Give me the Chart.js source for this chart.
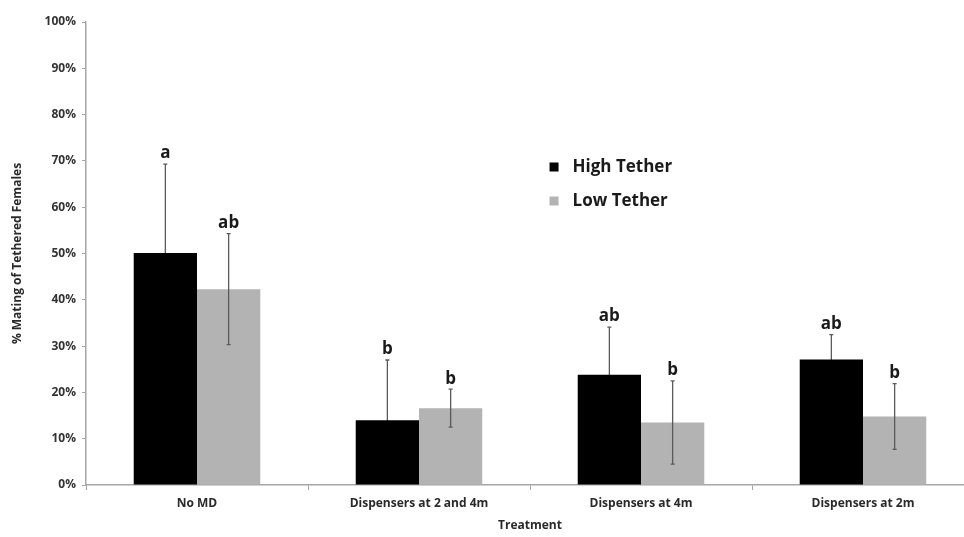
<!DOCTYPE html>
<html>
<head>
<meta charset="utf-8">
<script src="https://cdn.jsdelivr.net/npm/chart.js@4/dist/chart.umd.min.js"></script>
<style>
html, body { margin: 0; padding: 0; overflow: hidden; background: #fff; }
#wrap { position: relative; width: 975px; height: 537px; }
</style>
</head>
<body>
<div id="wrap"><canvas id="myChart"></canvas></div>
<script>
// values (percent)
const treatments = ['No MD', 'Dispensers at 2 and 4m', 'Dispensers at 4m', 'Dispensers at 2m']
const highTether = [50.1, 14.0, 23.8, 27.1]
const lowTether = [42.3, 16.6, 13.5, 14.8]
const highErr = [19.2, 13.0, 10.3, 5.4]
const lowErr = [12.0, 4.1, 9.0, 7.1]
const highLetters = ['a', 'b', 'ab', 'ab']
const lowLetters = ['ab', 'b', 'b', 'b']
const seriesNames = ['High Tether', 'Low Tether']
const seriesColors = ['#000000', '#b3b3b3']

const FONT = '"Open Sans", Lato, sans-serif'

// error bars: the black series goes under its bars, the grey one on top
function drawErrors(chart, idx, errs) {
    const meta = chart.getDatasetMeta(idx)
    const y = chart.scales.y
    const vals = chart.data.datasets[idx].data
    const ctx = chart.ctx
    ctx.save()
    ctx.strokeStyle = '#5a5a5a'
    ctx.lineWidth = 1.3
    meta.data.forEach((bar, i) => {
        const top = y.getPixelForValue(vals[i] + errs[i])
        const bot = y.getPixelForValue(vals[i] - errs[i])
        ctx.beginPath()
        ctx.moveTo(bar.x, top); ctx.lineTo(bar.x, bot)
        ctx.moveTo(bar.x - 2, top); ctx.lineTo(bar.x + 2, top)
        ctx.moveTo(bar.x - 2, bot); ctx.lineTo(bar.x + 2, bot)
        ctx.stroke()
    })
    ctx.restore()
}

const errorBars = {
    id: 'errorBars',
    beforeDatasetsDraw(chart) {
        drawErrors(chart, 0, highErr)
    },
    afterDatasetsDraw(chart) {
        drawErrors(chart, 1, lowErr)
        const ctx = chart.ctx
        const y = chart.scales.y
        ctx.save()
        ctx.fillStyle = '#1a1a1a'
        ctx.font = 'bold 17px ' + FONT
        ctx.textAlign = 'center'
        ctx.textBaseline = 'bottom'
        const sets = [[highTether, highErr, highLetters], [lowTether, lowErr, lowLetters]]
        sets.forEach((s, idx) => {
            chart.getDatasetMeta(idx).data.forEach((bar, i) => {
                const top = y.getPixelForValue(s[0][i] + s[1][i])
                ctx.fillText(s[2][i], bar.x, top - 2)
            })
        })
        ctx.restore()
    }
}

// legend sits inside the plot, right of centre
const insideLegend = {
    id: 'insideLegend',
    afterDraw(chart) {
        const ctx = chart.ctx
        const a = chart.chartArea
        const x0 = a.left + (a.right - a.left) * 0.522
        const y0 = a.top + 145
        ctx.save()
        ctx.font = 'bold 17px ' + FONT
        ctx.textBaseline = 'middle'
        seriesNames.forEach((name, i) => {
            const yy = y0 + i * 34
            ctx.fillStyle = seriesColors[i]
            ctx.fillRect(x0, yy - 4.5, 9, 9)
            ctx.fillStyle = '#1a1a1a'
            ctx.fillText(name, x0 + 23, yy)
        })
        ctx.restore()
    }
}

const ctx = document.getElementById('myChart').getContext('2d')
const myChart = new Chart(ctx, {
    type: 'bar',
    data: {
        labels: treatments,
        datasets: [{
            label: seriesNames[0],
            data: highTether,
            backgroundColor: seriesColors[0],
            borderWidth: 0
        }, {
            label: seriesNames[1],
            data: lowTether,
            backgroundColor: seriesColors[1],
            borderWidth: 0
        }]
    },
    options: {
        responsive: true,
        maintainAspectRatio: false,
        animation: false,
        layout: { padding: { top: 22, right: 1, left: 0, bottom: 0 } },
        datasets: {
            bar: { categoryPercentage: 0.57, barPercentage: 1.0 }
        },
        plugins: {
            legend: { display: false },
            tooltip: { enabled: false }
        },
        scales: {
            x: {
                grid: { display: true, offset: true, drawOnChartArea: false, tickLength: 5, color: '#a6a6a6' },
                border: { color: '#a6a6a6', width: 1.5 },
                ticks: { color: '#2a2a2a', padding: 6, font: { family: FONT, size: 12, weight: 'bold' } },
                title: { display: true, text: 'Treatment', color: '#2a2a2a', padding: { top: 7 }, font: { family: FONT, size: 12, weight: 'bold' } },
                afterFit(scale) { scale.height = 52 }
            },
            y: {
                min: 0,
                max: 100,
                grid: { drawOnChartArea: false, tickLength: 4, color: '#a6a6a6' },
                border: { color: '#a6a6a6', width: 1.5 },
                ticks: {
                    stepSize: 10,
                    padding: 6,
                    color: '#333',
                    font: { family: FONT, size: 12, weight: 'bold' },
                    callback: v => v + '%'
                },
                title: { display: true, text: '% Mating of Tethered Females', color: '#2a2a2a', padding: { top: 10, bottom: 0 }, font: { family: FONT, size: 12, weight: 'bold' } },
                afterFit(scale) { scale.width = 86 }
            }
        }
    },
    plugins: [errorBars, insideLegend]
})
</script>
</body>
</html>
